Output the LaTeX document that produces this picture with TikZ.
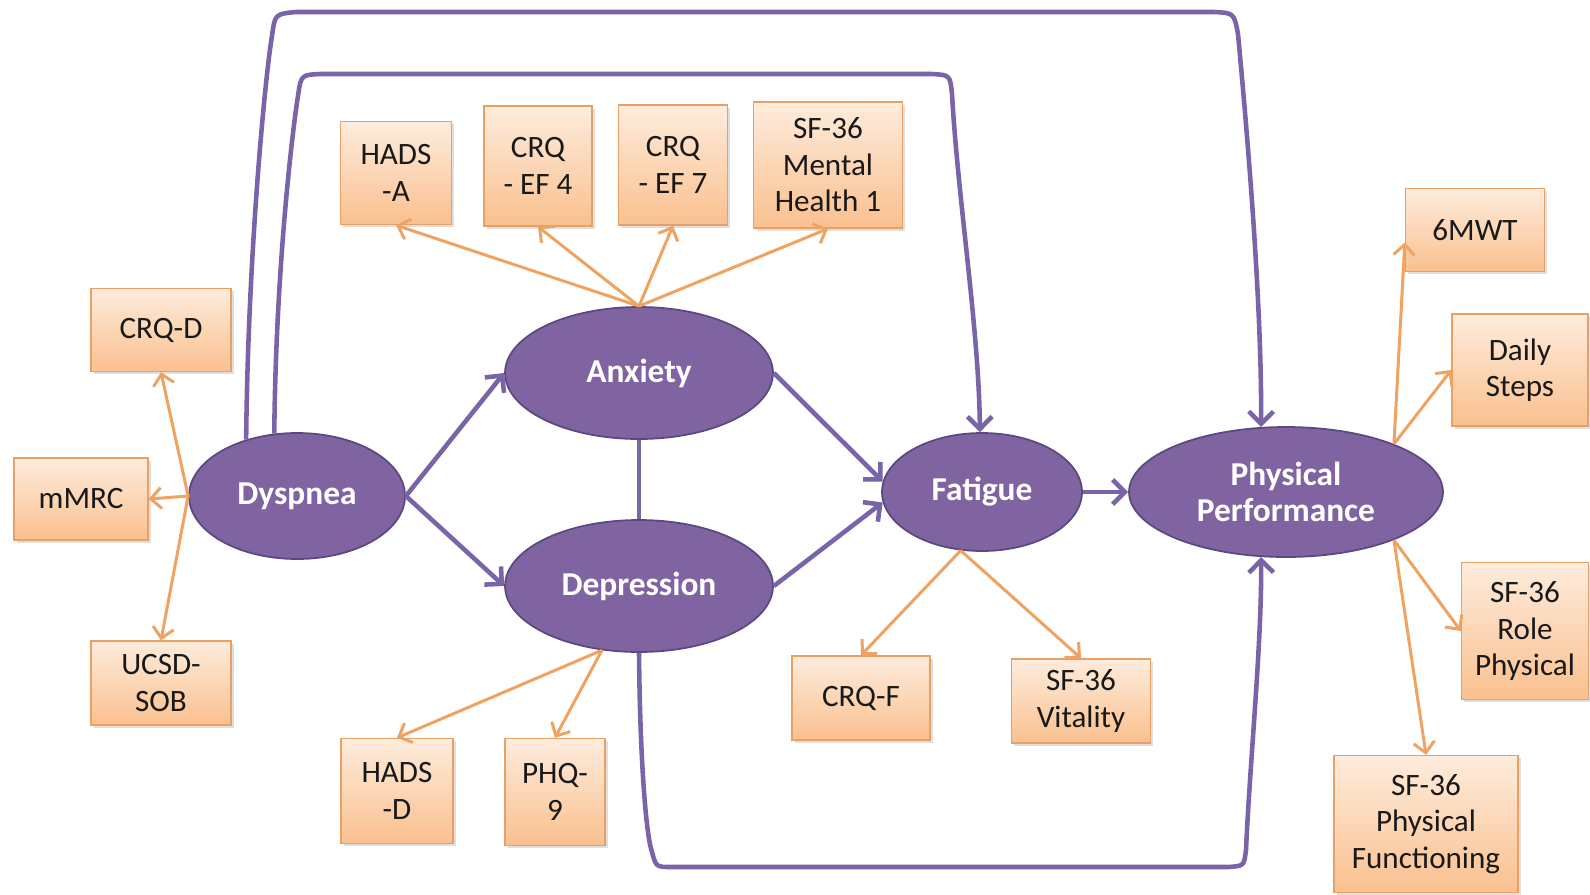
\documentclass[tikz,border=0pt]{standalone}
\usepackage{fontspec}
\setmainfont{Carlito}
\usetikzlibrary{arrows.meta,shapes.geometric,shadows}

\definecolor{factorfill}{RGB}{128,100,162}
\definecolor{factordraw}{RGB}{92,72,128}
\definecolor{effectline}{RGB}{122,100,168}
\definecolor{itemtop}{RGB}{253,236,220}
\definecolor{itembot}{RGB}{250,192,143}
\definecolor{itemdraw}{RGB}{232,160,100}
\definecolor{loadline}{RGB}{240,162,96}

\tikzset{
  factor/.style={ellipse, fill=factorfill, draw=factordraw, line width=1pt,
    text=white, font=\fontsize{19}{20.5}\selectfont\bfseries, align=center, inner sep=0pt},
  item/.style={rectangle, top color=itemtop, bottom color=itembot, draw=itemdraw,
    line width=0.8pt, text=black!90, font=\fontsize{17.7}{20.8}\selectfont, align=center,
    inner sep=0pt, drop shadow={opacity=0.25, shadow xshift=1.5pt, shadow yshift=-1.5pt}},
  loading/.style={draw=loadline, line width=1.7pt, -{Straight Barb[length=6pt,width=12pt]}},
  effect/.style={draw=effectline, line width=2.6pt, -{Straight Barb[length=7pt,width=14pt]}},
}

\begin{document}
\begin{tikzpicture}[x=0.02cm, y=-0.02cm]
        \useasboundingbox (0,0) rectangle (1590,894);

        \begin{scope}[every node/.style={factor}]
          \node[minimum width=4.32cm, minimum height=2.52cm] (dys)  at (297,496)  {Dyspnea};
          \node[minimum width=5.36cm, minimum height=2.64cm] (anx)  at (639,373)  {Anxiety};
          \node[minimum width=5.36cm, minimum height=2.64cm] (dep)  at (639,586)  {Depression};
          \node[minimum width=4.0cm,  minimum height=2.36cm] (fat)  at (982,492)  {Fatigue};
          \node[minimum width=6.28cm, minimum height=2.6cm]  (phys) at (1286,492) {Physical\\Performance};
        \end{scope}

        \begin{scope}[every node/.style={item}]
          \node[minimum width=2.8cm,  minimum height=1.66cm] (crqd)  at (161,330)  {CRQ-D};
          \node[minimum width=2.68cm, minimum height=1.64cm] (mmrc)  at (81,499)   {mMRC};
          \node[minimum width=2.8cm,  minimum height=1.68cm] (ucsd)  at (161,683)  {UCSD-\\SOB};
          \node[minimum width=2.22cm, minimum height=2.06cm] (hadsa) at (396,173)  {HADS\\-A};
          \node[minimum width=2.16cm, minimum height=2.4cm]  (ef4)   at (538,166)  {CRQ\\- EF 4};
          \node[minimum width=2.18cm, minimum height=2.4cm]  (ef7)   at (673,165)  {CRQ\\- EF 7};
          \node[minimum width=2.98cm, minimum height=2.52cm] (mh)    at (828,165)  {SF-36\\Mental\\Health 1};
          \node[minimum width=2.24cm, minimum height=2.1cm]  (hadsd) at (397,791)  {HADS\\-D};
          \node[minimum width=2.0cm,  minimum height=2.14cm] (phq)   at (555,792)  {PHQ-\\9};
          \node[minimum width=2.76cm, minimum height=1.68cm] (crqf)  at (861,698)  {CRQ-F};
          \node[minimum width=2.78cm, minimum height=1.68cm] (vit)   at (1081,701) {SF-36\\Vitality};
          \node[minimum width=2.78cm, minimum height=1.66cm] (smwt)  at (1475,230) {6MWT};
          \node[minimum width=2.72cm, minimum height=2.24cm] (steps) at (1520,370) {Daily\\Steps};
          \node[minimum width=2.54cm, minimum height=2.74cm] (role)  at (1525,631) {SF-36\\Role\\Physical};
          \node[minimum width=3.68cm, minimum height=2.74cm] (func)  at (1426,824) {SF-36\\Physical\\Functioning};
        \end{scope}

        % indicators
        \begin{scope}[every edge/.style={loading}]
          \path (dys.west)  edge (crqd.south);
          \path (dys.west)  edge (mmrc.east);
          \path (dys.west)  edge (ucsd.north);
          \path (anx.north) edge (hadsa.south);
          \path (anx.north) edge (ef4.south);
          \path (anx.north) edge (ef7.south);
          \path (anx.north) edge (mh.south);
          \path (dep.240)   edge (hadsd.north);
          \path (dep.240)   edge (phq.north);
          \path (fat.250)   edge (crqf.north);
          \path (fat.250)   edge (vit.north);
          \path (phys.24)   edge (smwt.190);
          \path (phys.24)   edge (steps.west);
          \path (phys.336)  edge (role.west);
          \path (phys.336)  edge (func.north);
        \end{scope}

        % structural paths
        \begin{scope}[every edge/.style={effect}]
          \path (dys.east)  edge (anx.west);
          \path (dys.east)  edge (dep.west);
          \path (anx.east)  edge (fat.174);
          \path (dep.east)  edge (fat.186);
          \path (fat.east)  edge (phys.west);
          \path (anx.south) edge[-] (dep.north);
        \end{scope}

        \draw[effect] (dys.132) .. controls (248,250) and (266,70) .. (272,36)
          .. controls (275,14) .. (296,12) -- (1214,12) .. controls (1234,13) .. (1238,34)
          .. controls (1246,120) and (1262,300) .. (phys.111);
        \draw[effect] (dys.110) .. controls (276,260) and (294,120) .. (298,96)
          .. controls (301,75) .. (320,74) -- (932,74) .. controls (950,75) .. (952,94)
          .. controls (958,200) and (979,330) .. (fat.92);
        \draw[effect] (dep.south) .. controls (640,760) and (646,835) .. (652,852)
          .. controls (656,867) .. (672,867) -- (1228,867) .. controls (1244,866) .. (1246,850)
          .. controls (1250,760) and (1262,640) .. (phys.249);

\end{tikzpicture}
\end{document}
